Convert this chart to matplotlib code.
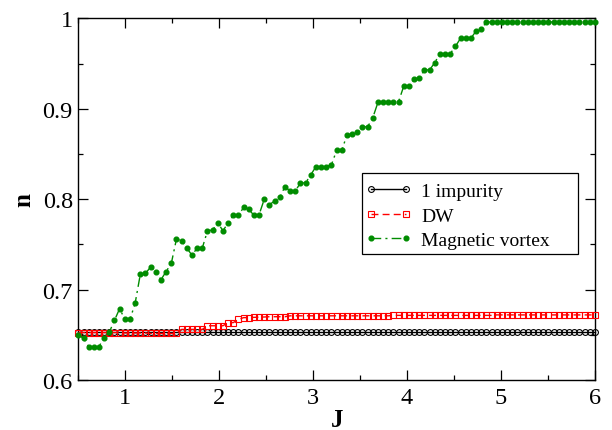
import numpy as np
from matplotlib import pyplot as plt
from matplotlib.patches import Rectangle
from matplotlib.ticker import MultipleLocator

plt.rcParams['font.family'] = ['Liberation Serif', 'DejaVu Serif']

# coupling grid, 101 points from 0.5 to 6
J = np.linspace(0.5, 6.0, 101)

n_impurity = [0.6535] * 101

n_dw = ([0.6525] * 9 + [0.652] * 5 + [0.6515] * 6 + [0.656] * 5
        + [0.660] * 4 + [0.6635] * 2 + [0.667]
        + [0.669, 0.669, 0.6693, 0.6695, 0.6697, 0.670, 0.670, 0.670, 0.670]
        + [0.671] * 20 + [0.6715] * 20 + [0.672] * 20)

n_vortex = [
    0.650, 0.646, 0.637, 0.636, 0.637, 0.647, 0.653, 0.666, 0.679, 0.667,
    0.667, 0.685, 0.717, 0.718, 0.725, 0.720, 0.711, 0.720, 0.729, 0.756,
    0.754, 0.746, 0.738, 0.746, 0.746, 0.765, 0.766, 0.774, 0.765, 0.774,
    0.782, 0.782, 0.791, 0.789, 0.782, 0.783, 0.800, 0.794, 0.798, 0.802,
    0.814, 0.809, 0.809, 0.818, 0.818, 0.827, 0.836, 0.836, 0.836, 0.838,
    0.854, 0.854, 0.871, 0.872, 0.874, 0.880, 0.880, 0.890, 0.907, 0.907,
    0.907, 0.907, 0.908, 0.925, 0.925, 0.933, 0.934, 0.943, 0.943, 0.951,
    0.961, 0.961, 0.961, 0.969, 0.978, 0.978, 0.978, 0.986, 0.988,
] + [0.996] * 22

fig = plt.figure(figsize=(6.12, 4.31), dpi=100)
ax = fig.add_axes([0.128, 0.116, 0.844, 0.839])

ax.plot(J, n_impurity, color='black', lw=1.0, marker='o', ms=4.2,
        mfc='none', mec='black', mew=0.8, clip_on=False, zorder=3,
        label='1 impurity')
ax.plot(J, n_dw, color='red', lw=1.0, ls=(0, (5, 3)), marker='s', ms=4.2,
        mfc='none', mec='red', mew=0.8, clip_on=False, zorder=4,
        label='DW')
ax.plot(J, n_vortex, color='#008c00', lw=1.0, ls=(0, (7, 3, 1.5, 3)),
        marker='o', ms=3.4, mfc='#008c00', mec='#008c00', clip_on=False,
        zorder=5, label='Magnetic vortex')

ax.set_xlim(0.5, 6)
ax.set_ylim(0.6, 1.0)
ax.xaxis.set_major_locator(MultipleLocator(1))
ax.xaxis.set_minor_locator(MultipleLocator(0.5))
ax.yaxis.set_major_locator(MultipleLocator(0.1))
ax.yaxis.set_minor_locator(MultipleLocator(0.05))
ax.yaxis.set_major_formatter(lambda v, pos: '1' if abs(v - 1) < 1e-9 else f'{v:.1f}')
ax.tick_params(which='both', direction='in', top=True, right=True,
               labelsize=17.5, width=0.9)
ax.tick_params(which='major', length=7)
ax.tick_params(which='minor', length=3.5)
ax.tick_params(axis='x', pad=5)
ax.tick_params(axis='y', pad=4)
for sp in ax.spines.values():
    sp.set_linewidth(1.0)

ax.set_xlabel('J', fontsize=18, fontweight='bold', labelpad=0)
ax.set_ylabel('n', fontsize=18, fontweight='bold', labelpad=5)

# legend box is drawn separately so it can be wider than the text
ax.add_patch(Rectangle((0.5497, 0.3484), 0.418, 0.223, transform=ax.transAxes,
                       facecolor='white', edgecolor='black', lw=0.9,
                       zorder=9))
leg = ax.legend(loc='upper left', bbox_to_anchor=(0.5429, 0.5645),
                borderaxespad=0, fontsize=14, numpoints=2,
                handlelength=2.4, frameon=False, borderpad=0.35,
                labelspacing=0.35, handletextpad=0.45)
leg.set_zorder(10)

fig.savefig('out.png', dpi=100)
